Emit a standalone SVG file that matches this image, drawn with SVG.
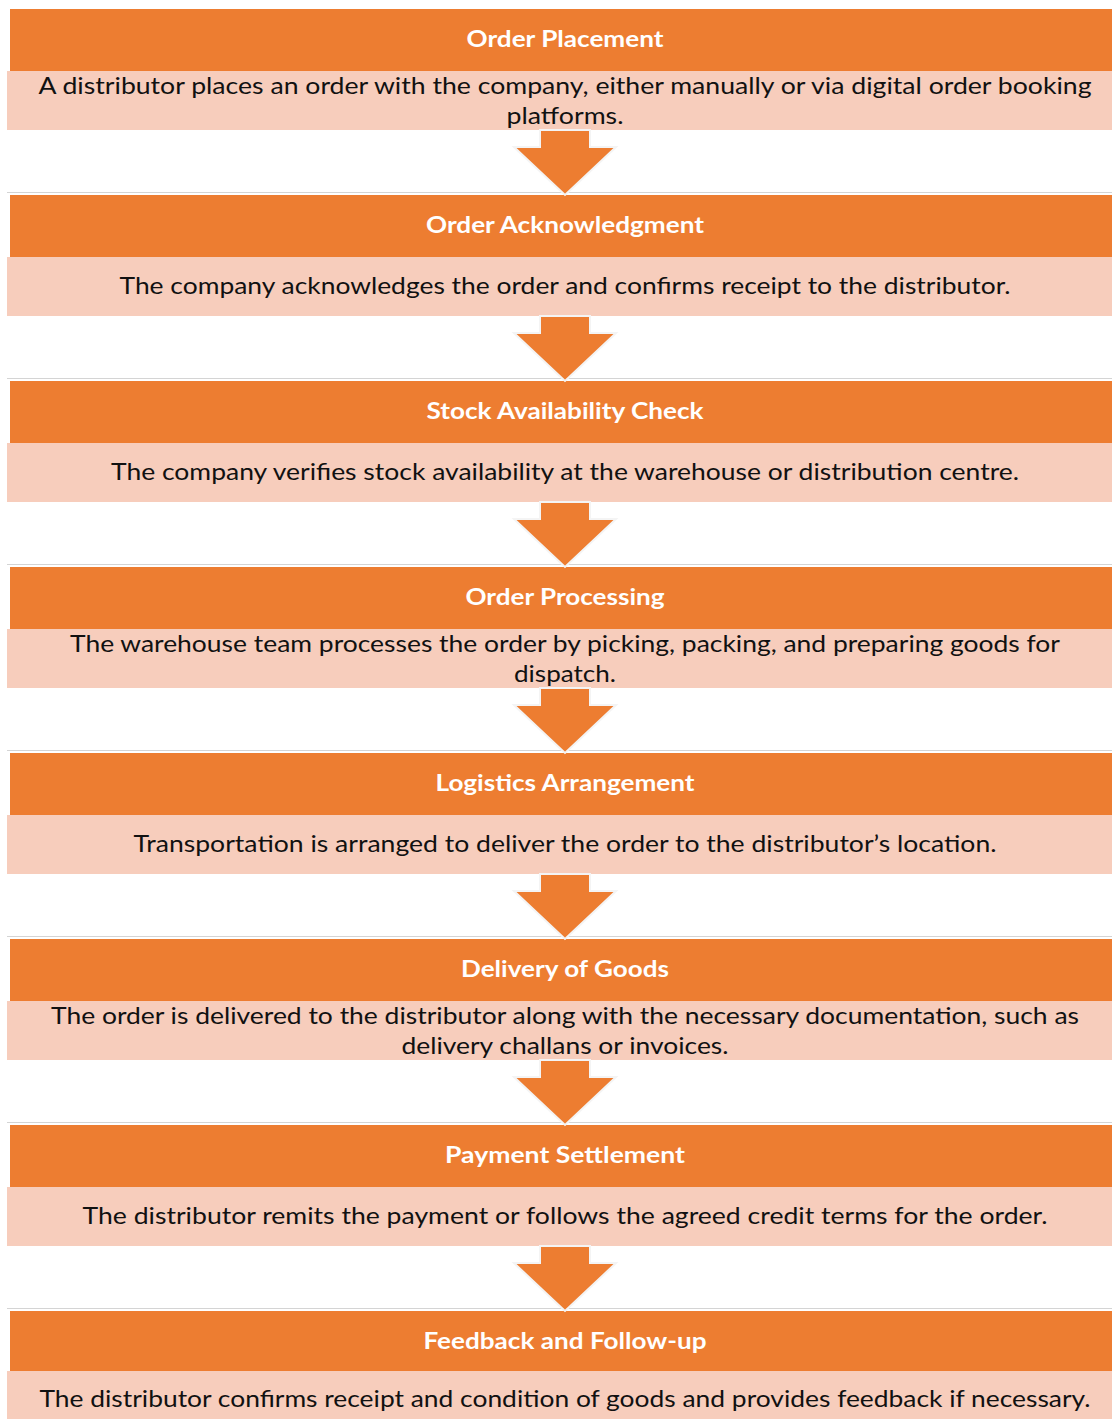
<svg xmlns="http://www.w3.org/2000/svg" width="1112" height="1419" viewBox="0 0 1112 1419">
  <style>
    .head { fill: #ED7D31; }
    .body { fill: #F7CDBC; }
    .sep { stroke: #D4D4D4; stroke-width: 1; }
    .title { font-family: "Lato", "Liberation Sans", sans-serif; font-size: 23px; font-weight: bold; fill: #FFFFFF; text-anchor: middle; }
    .desc { font-family: "Lato", "Liberation Sans", sans-serif; font-size: 23px; fill: #111111; text-anchor: middle; }
    .arrow { fill: #ED7D31; stroke: #F4F4F4; stroke-width: 2; stroke-linejoin: miter; }
  </style>
  <defs>
    <!-- down arrow shape, origin at the top of the stem -->
    <polygon id="down" class="arrow" points="540,0 590,0 590,17 616,17 565,65 514,17 540,17 540,0"/>
  </defs>
  <rect x="0" y="0" width="1112" height="1419" fill="#FFFFFF"/>

  <g id="step1">
    <rect class="head" x="10" y="9" width="1102" height="62"/>
    <rect class="body" x="7" y="71" width="1105" height="59"/>
    <text class="title" x="565" y="47" textLength="197" lengthAdjust="spacingAndGlyphs">Order Placement</text>
    <text class="desc" x="565" y="94" textLength="1053" lengthAdjust="spacingAndGlyphs">A distributor places an order with the company, either manually or via digital order booking</text>
    <text class="desc" x="565" y="124" textLength="117" lengthAdjust="spacingAndGlyphs">platforms.</text>
  </g>

  <g id="step2">
    <line class="sep" x1="7" y1="192.5" x2="1112" y2="192.5"/>
    <rect class="head" x="10" y="195" width="1102" height="62"/>
    <rect class="body" x="7" y="257" width="1105" height="59"/>
    <text class="title" x="565" y="233" textLength="278" lengthAdjust="spacingAndGlyphs">Order Acknowledgment</text>
    <text class="desc" x="565" y="294" textLength="891" lengthAdjust="spacingAndGlyphs">The company acknowledges the order and confirms receipt to the distributor.</text>
  </g>

  <g id="step3">
    <line class="sep" x1="7" y1="378.5" x2="1112" y2="378.5"/>
    <rect class="head" x="10" y="381" width="1102" height="62"/>
    <rect class="body" x="7" y="443" width="1105" height="59"/>
    <text class="title" x="565" y="419" textLength="277" lengthAdjust="spacingAndGlyphs">Stock Availability Check</text>
    <text class="desc" x="565" y="480" textLength="908" lengthAdjust="spacingAndGlyphs">The company verifies stock availability at the warehouse or distribution centre.</text>
  </g>

  <g id="step4">
    <line class="sep" x1="7" y1="564.5" x2="1112" y2="564.5"/>
    <rect class="head" x="10" y="567" width="1102" height="62"/>
    <rect class="body" x="7" y="629" width="1105" height="59"/>
    <text class="title" x="565" y="605" textLength="199" lengthAdjust="spacingAndGlyphs">Order Processing</text>
    <text class="desc" x="565" y="652" textLength="990" lengthAdjust="spacingAndGlyphs">The warehouse team processes the order by picking, packing, and preparing goods for</text>
    <text class="desc" x="565" y="682" textLength="102" lengthAdjust="spacingAndGlyphs">dispatch.</text>
  </g>

  <g id="step5">
    <line class="sep" x1="7" y1="750.5" x2="1112" y2="750.5"/>
    <rect class="head" x="10" y="753" width="1102" height="62"/>
    <rect class="body" x="7" y="815" width="1105" height="59"/>
    <text class="title" x="565" y="791" textLength="259" lengthAdjust="spacingAndGlyphs">Logistics Arrangement</text>
    <text class="desc" x="565" y="852" textLength="863" lengthAdjust="spacingAndGlyphs">Transportation is arranged to deliver the order to the distributor’s location.</text>
  </g>

  <g id="step6">
    <line class="sep" x1="7" y1="936.5" x2="1112" y2="936.5"/>
    <rect class="head" x="10" y="939" width="1102" height="62"/>
    <rect class="body" x="7" y="1001" width="1105" height="59"/>
    <text class="title" x="565" y="977" textLength="208" lengthAdjust="spacingAndGlyphs">Delivery of Goods</text>
    <text class="desc" x="565" y="1024" textLength="1028" lengthAdjust="spacingAndGlyphs">The order is delivered to the distributor along with the necessary documentation, such as</text>
    <text class="desc" x="565" y="1054" textLength="327" lengthAdjust="spacingAndGlyphs">delivery challans or invoices.</text>
  </g>

  <g id="step7">
    <line class="sep" x1="7" y1="1122.5" x2="1112" y2="1122.5"/>
    <rect class="head" x="10" y="1125" width="1102" height="62"/>
    <rect class="body" x="7" y="1187" width="1105" height="59"/>
    <text class="title" x="565" y="1163" textLength="240" lengthAdjust="spacingAndGlyphs">Payment Settlement</text>
    <text class="desc" x="565" y="1224" textLength="965" lengthAdjust="spacingAndGlyphs">The distributor remits the payment or follows the agreed credit terms for the order.</text>
  </g>

  <g id="step8">
    <line class="sep" x1="7" y1="1308.5" x2="1112" y2="1308.5"/>
    <rect class="head" x="10" y="1311" width="1102" height="60"/>
    <rect class="body" x="7" y="1371" width="1105" height="59"/>
    <text class="title" x="565" y="1349" textLength="283" lengthAdjust="spacingAndGlyphs">Feedback and Follow-up</text>
    <text class="desc" x="565" y="1407" textLength="1051" lengthAdjust="spacingAndGlyphs">The distributor confirms receipt and condition of goods and provides feedback if necessary.</text>
  </g>

  <g id="connectors">
    <use href="#down" y="130"/>
    <use href="#down" y="316"/>
    <use href="#down" y="502"/>
    <use href="#down" y="688"/>
    <use href="#down" y="874"/>
    <use href="#down" y="1060"/>
    <use href="#down" y="1246"/>
  </g>
</svg>
